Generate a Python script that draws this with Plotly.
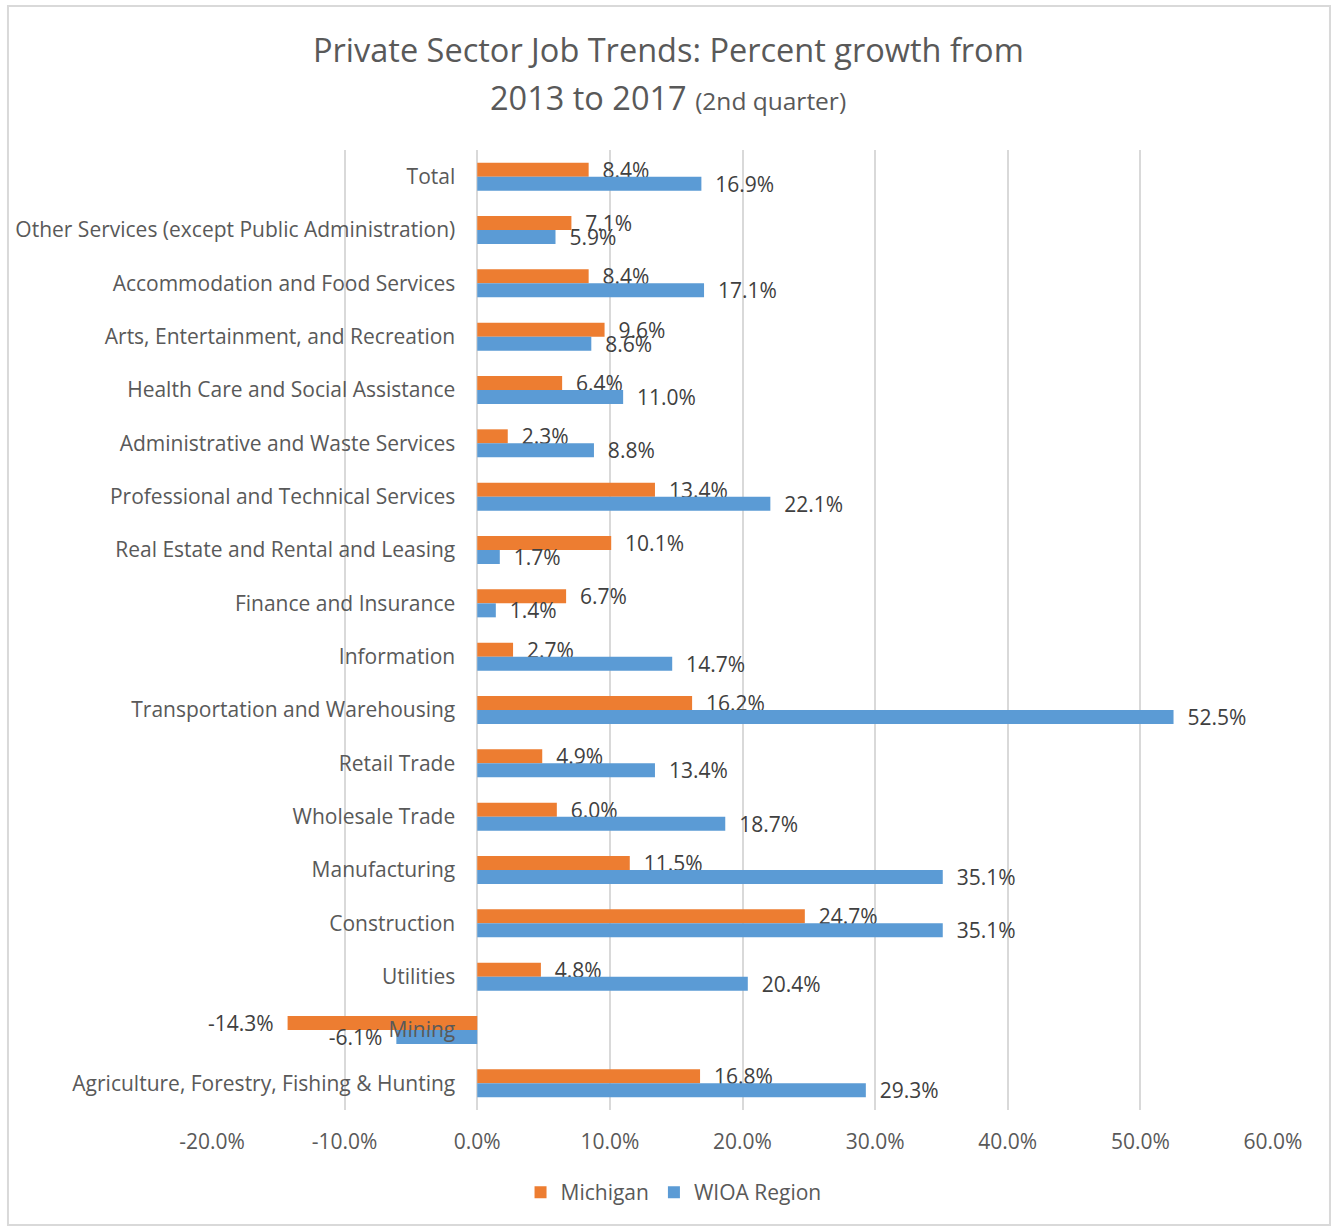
import plotly.graph_objects as go

categories = [
    "Total",
    "Other Services (except Public Administration)",
    "Accommodation and Food Services",
    "Arts, Entertainment, and Recreation",
    "Health Care and Social Assistance",
    "Administrative and Waste Services",
    "Professional and Technical Services",
    "Real Estate and Rental and Leasing",
    "Finance and Insurance",
    "Information",
    "Transportation and Warehousing",
    "Retail Trade",
    "Wholesale Trade",
    "Manufacturing",
    "Construction",
    "Utilities",
    "Mining",
    "Agriculture, Forestry, Fishing & Hunting",
]
michigan = [8.4, 7.1, 8.4, 9.6, 6.4, 2.3, 13.4, 10.1, 6.7, 2.7, 16.2, 4.9, 6.0, 11.5, 24.7, 4.8, -14.3, 16.8]
wioa = [16.9, 5.9, 17.1, 8.6, 11.0, 8.8, 22.1, 1.7, 1.4, 14.7, 52.5, 13.4, 18.7, 35.1, 35.1, 20.4, -6.1, 29.3]
x_ticks = [-20, -10, 0, 10, 20, 30, 40, 50, 60]
x_tick_labels = ["-20.0%", "-10.0%", "0.0%", "10.0%", "20.0%", "30.0%", "40.0%", "50.0%", "60.0%"]

FONT = "Open Sans"
FS = 21
ORANGE = "#ED7D31"
BLUE = "#5B9BD5"
PAD = "\u00a0\u00a0"


def labels(values):
    return [f"{PAD}{v:.1f}%" if v >= 0 else f"{v:.1f}%{PAD}" for v in values]


fig = go.Figure()
for name, vals, color in [("Michigan", michigan, ORANGE), ("WIOA Region", wioa, BLUE)]:
    fig.add_trace(go.Bar(
        y=categories, x=vals, orientation="h", name=name,
        marker=dict(color=color, line=dict(width=0)),
        text=labels(vals), textposition="outside", constraintext="none",
        cliponaxis=False, textfont=dict(family=FONT, size=FS, color="#404040"),
    ))

fig.update_layout(
    width=1331, height=1230,
    margin=dict(l=212, r=58, t=150, b=120),
    paper_bgcolor="white", plot_bgcolor="white",
    barmode="group", bargap=0.475, bargroupgap=0,
    font=dict(family=FONT, color="#595959"),
    xaxis=dict(
        range=[-20, 60], tickvals=x_ticks, ticktext=x_tick_labels,
        showgrid=True, gridcolor="#D9D9D9", gridwidth=2,
        zeroline=True, zerolinecolor="#D9D9D9", zerolinewidth=2,
        showline=False, ticks="",
        tickfont=dict(family=FONT, size=FS, color="#595959"),
        ticklabelstandoff=17,
    ),
    yaxis=dict(
        autorange="reversed", anchor="free", position=0.25,
        showgrid=False, zeroline=False, showline=False, ticks="",
        tickfont=dict(family=FONT, size=FS, color="#595959"),
        ticklabelstandoff=22,
    ),
    legend=dict(
        orientation="h", x=0.435, xanchor="center", y=-0.086, yanchor="middle",
        font=dict(family=FONT, size=FS, color="#595959"),
        itemwidth=30,
    ),
    showlegend=True,
)

fig.add_annotation(
    text="Private Sector Job Trends: Percent growth from",
    xref="paper", yref="paper", x=0.43, y=1.1042, xanchor="center", yanchor="middle",
    showarrow=False, font=dict(family=FONT, size=32.5, color="#595959"),
)
fig.add_annotation(
    text="2013 to 2017 <span style='font-size:24.5px'>(2nd quarter)</span>",
    xref="paper", yref="paper", x=0.43, y=1.0552, xanchor="center", yanchor="middle",
    showarrow=False, font=dict(family=FONT, size=32.5, color="#595959"),
)

fig.add_shape(
    type="rect", xref="paper", yref="paper",
    x0=-0.1923, x1=1.0537, y0=-0.1198, y1=1.15,
    line=dict(color="#D9D9D9", width=2), fillcolor="rgba(0,0,0,0)", layer="below",
)

fig.write_html("out.html")
